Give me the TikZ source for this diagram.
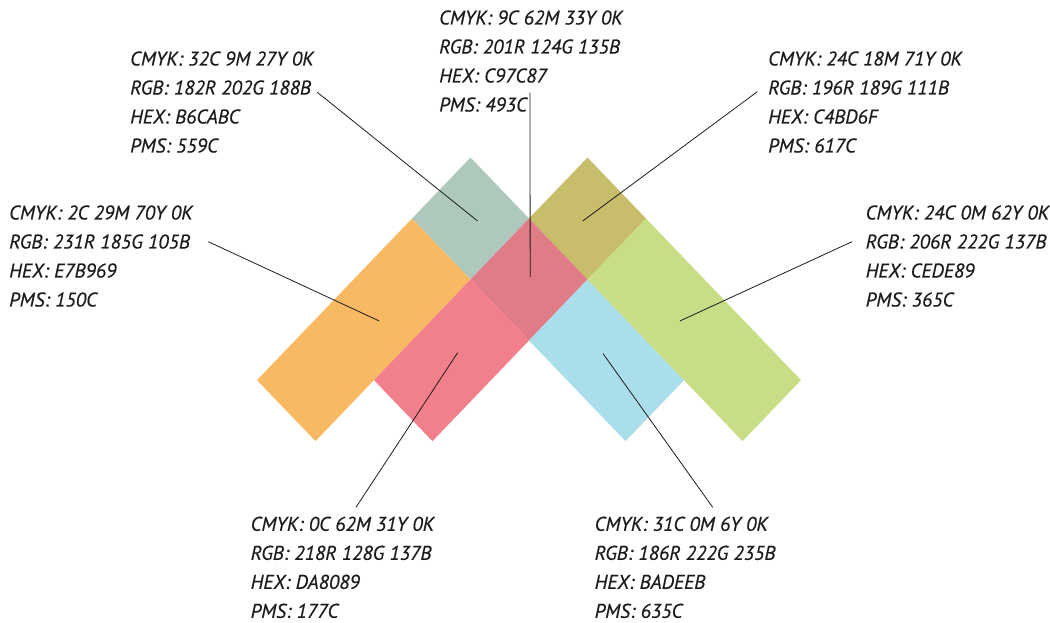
\documentclass[tikz,border=0pt]{standalone}
\usepackage{fontspec}
\setmainfont{PT Sans}[FakeBold=0.5]
\usetikzlibrary{positioning,calc}
\definecolor{swsage}{RGB}{174,201,188}
\definecolor{swolive}{RGB}{199,189,106}
\definecolor{swrose}{RGB}{224,123,136}
\definecolor{sworange}{RGB}{247,186,98}
\definecolor{swpink}{RGB}{242,128,140}
\definecolor{swblue}{RGB}{171,222,235}
\definecolor{swgreen}{RGB}{200,222,134}
\definecolor{darktext}{RGB}{30,27,28}
\begin{document}
\begin{tikzpicture}[x=1pt,y=-1pt,
  swatch/.style={font=\fontsize{19.8}{29}\selectfont\itshape,
                 align=left,inner sep=0pt,anchor=north west,text=darktext},
  lead/.style={line width=0.8pt,color=darktext}]
\useasboundingbox (0,0) rectangle (1050,623);
\begin{scope}[shift={(470.5pt,-157.5pt)},x={(58.5pt,-61pt)},y={(-58.5pt,-61pt)}]
\foreach \col/\xa/\ya/\xb/\yb in {swsage/0/0/1/1,swolive/1/-1/2/0,swrose/1/0/2/1,
    sworange/0/1/1/3.65,swpink/1/1/2/2.65,swblue/2/0/3.65/1,swgreen/2/-1/4.65/0}
  \fill[\col] (\xa,\ya) -- (\xb,\ya) -- (\xb,\yb) -- (\xa,\yb) -- cycle;
\coordinate (sg-in) at (0.58,0.46);
\coordinate (rs-in) at (1.49,0.47);
\coordinate (ol-in) at (1.48,-0.44);
\coordinate (or-in) at (0.56,2.12);
\coordinate (gr-in) at (3.13,-0.45);
\coordinate (pk-in) at (1.49,1.71);
\coordinate (bl-in) at (2.74,0.475);
\end{scope}
\node[swatch] (sg) at (130,51.2)
  {CMYK: 32C 9M 27Y 0K\\RGB: 182R 202G 188B\\HEX: B6CABC\\PMS: 559C};
\node[swatch] (rs) at (439,10.2)
  {CMYK: 9C 62M 33Y 0K\\RGB: 201R 124G 135B\\HEX: C97C87\\PMS: 493C};
\node[swatch] (ol) at (768,51.2)
  {CMYK: 24C 18M 71Y 0K\\RGB: 196R 189G 111B\\HEX: C4BD6F\\PMS: 617C};
\node[swatch] (or) at (9,205.2)
  {CMYK: 2C 29M 70Y 0K\\RGB: 231R 185G 105B\\HEX: E7B969\\PMS: 150C};
\node[swatch] (gr) at (865.5,205.2)
  {CMYK: 24C 0M 62Y 0K\\RGB: 206R 222G 137B\\HEX: CEDE89\\PMS: 365C};
\node[swatch] (pk) at (250.5,516.5)
  {CMYK: 0C 62M 31Y 0K\\RGB: 218R 128G 137B\\HEX: DA8089\\PMS: 177C};
\node[swatch] (bl) at (594.5,516.5)
  {CMYK: 31C 0M 6Y 0K\\RGB: 186R 222G 235B\\HEX: BADEEB\\PMS: 635C};
\coordinate (sg-out) at (317.3,92.3);
\coordinate (rs-out) at (530,92.7);
\coordinate (ol-out) at (757.3,91.7);
\coordinate (or-out) at (208.3,241.7);
\coordinate (gr-out) at (852,241.7);
\coordinate (pk-out) at (356,507.3);
\coordinate (bl-out) at (712.7,507.3);
\draw[lead] (sg-out)--(sg-in);
\draw[lead] (rs-out)--(rs-in);
\draw[lead] (ol-out)--(ol-in);
\draw[lead] (or-out)--(or-in);
\draw[lead] (gr-out)--(gr-in);
\draw[lead] (pk-out)--(pk-in);
\draw[lead] (bl-out)--(bl-in);
\end{tikzpicture}
\end{document}
